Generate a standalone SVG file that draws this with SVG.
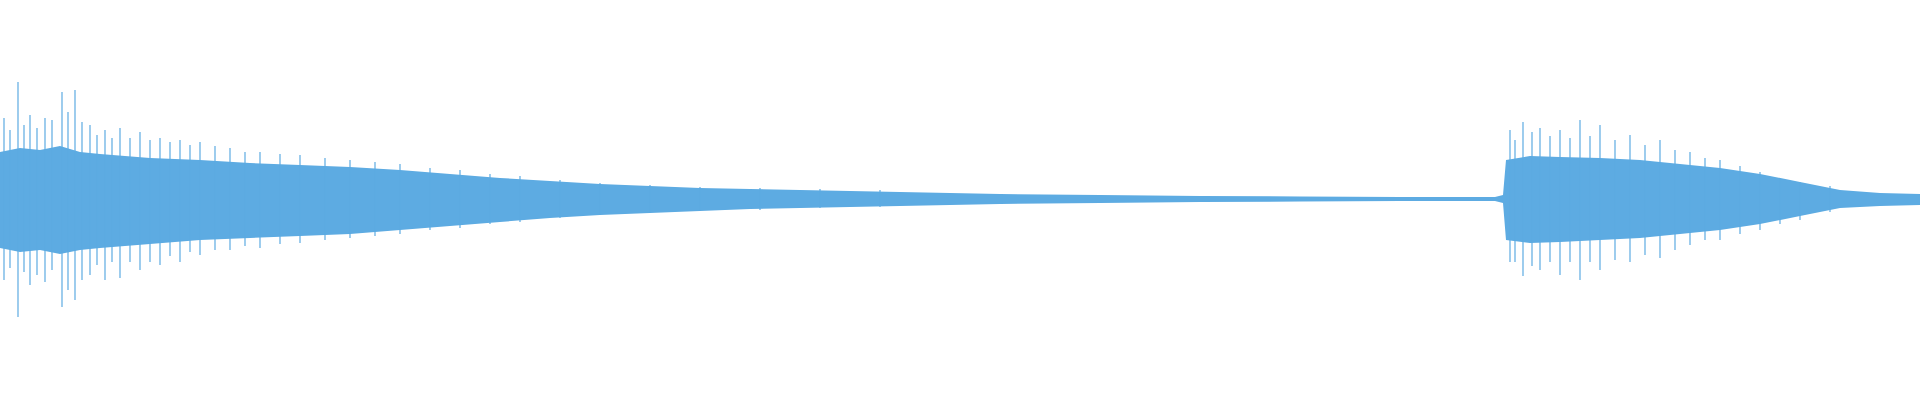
<svg xmlns="http://www.w3.org/2000/svg" width="1920" height="400" viewBox="0 0 1920 400">
<style>.w{fill:#5dabe2}.s{stroke:#5dabe2;stroke-width:1.2}</style>
<rect width="1920" height="400" fill="#fff"/>
<path class="w" d="M0,152 L20,148 L40,150 L60,146 L80,152 L100,154 L150,158 L200,160 L250,163 L300,165 L350,167 L400,170 L450,174 L500,178 L550,181 L600,184 L650,186 L700,188 L750,189 L800,190 L850,191 L900,192 L950,193 L1000,194 L1100,195 L1200,196 L1300,196.5 L1400,197 L1495,197 L1503,195 L1506,160 L1530,156 L1560,157 L1600,158 L1640,160 L1680,164 L1720,168 L1760,174 L1800,182 L1840,190 L1880,193 L1920,194 L1920,205 L1880,206 L1840,208 L1800,216 L1760,224 L1720,230 L1680,234 L1640,238 L1600,240 L1560,242 L1530,243 L1506,240 L1503,203 L1495,201 L1400,201 L1300,201.5 L1200,202 L1100,203 L1000,204 L950,205 L900,206 L850,207 L800,208 L750,209 L700,211 L650,213 L600,215 L550,218 L500,222 L450,226 L400,230 L350,234 L300,236 L250,238 L200,240 L150,244 L100,248 L80,250 L60,254 L40,250 L20,252 L0,248 Z"/>
<g class="s">
<line x1="18" y1="82" x2="18" y2="317"/><line x1="62" y1="92" x2="62" y2="307"/><line x1="75" y1="90" x2="75" y2="300"/>
<line x1="4" y1="118" x2="4" y2="280"/><line x1="30" y1="115" x2="30" y2="285"/><line x1="45" y1="118" x2="45" y2="282"/>
<line x1="10" y1="130" x2="10" y2="268"/><line x1="24" y1="125" x2="24" y2="272"/><line x1="37" y1="128" x2="37" y2="275"/>
<line x1="52" y1="120" x2="52" y2="270"/><line x1="68" y1="112" x2="68" y2="290"/><line x1="82" y1="122" x2="82" y2="280"/>
<line x1="90" y1="125" x2="90" y2="275"/><line x1="97" y1="135" x2="97" y2="265"/><line x1="105" y1="130" x2="105" y2="280"/><line x1="112" y1="138" x2="112" y2="262"/><line x1="120" y1="128" x2="120" y2="278"/>
<line x1="130" y1="138" x2="130" y2="262"/><line x1="140" y1="132" x2="140" y2="270"/><line x1="150" y1="140" x2="150" y2="262"/><line x1="160" y1="138" x2="160" y2="265"/><line x1="170" y1="142" x2="170" y2="256"/><line x1="180" y1="140" x2="180" y2="262"/>
<line x1="190" y1="145" x2="190" y2="252"/><line x1="200" y1="142" x2="200" y2="255"/><line x1="215" y1="146" x2="215" y2="250"/><line x1="230" y1="148" x2="230" y2="250"/><line x1="245" y1="152" x2="245" y2="246"/><line x1="260" y1="152" x2="260" y2="248"/>
<line x1="280" y1="154" x2="280" y2="244"/><line x1="300" y1="155" x2="300" y2="243"/><line x1="325" y1="158" x2="325" y2="240"/><line x1="350" y1="160" x2="350" y2="238"/><line x1="375" y1="162" x2="375" y2="236"/><line x1="400" y1="164" x2="400" y2="234"/>
<line x1="430" y1="168" x2="430" y2="230"/><line x1="460" y1="170" x2="460" y2="228"/><line x1="490" y1="174" x2="490" y2="224"/><line x1="520" y1="176" x2="520" y2="222"/><line x1="560" y1="180" x2="560" y2="218"/><line x1="600" y1="183" x2="600" y2="215"/>
<line x1="650" y1="185" x2="650" y2="213"/><line x1="700" y1="187" x2="700" y2="211"/><line x1="760" y1="188" x2="760" y2="210"/><line x1="820" y1="189" x2="820" y2="208"/><line x1="880" y1="190" x2="880" y2="207"/>
<line x1="1510" y1="130" x2="1510" y2="262"/><line x1="1515" y1="140" x2="1515" y2="262"/><line x1="1523" y1="122" x2="1523" y2="276"/><line x1="1532" y1="132" x2="1532" y2="266"/><line x1="1540" y1="128" x2="1540" y2="270"/>
<line x1="1550" y1="136" x2="1550" y2="262"/><line x1="1560" y1="130" x2="1560" y2="275"/><line x1="1570" y1="138" x2="1570" y2="262"/><line x1="1580" y1="120" x2="1580" y2="280"/><line x1="1590" y1="136" x2="1590" y2="262"/><line x1="1600" y1="125" x2="1600" y2="270"/>
<line x1="1615" y1="140" x2="1615" y2="260"/><line x1="1630" y1="135" x2="1630" y2="262"/><line x1="1645" y1="145" x2="1645" y2="255"/><line x1="1660" y1="140" x2="1660" y2="258"/><line x1="1675" y1="150" x2="1675" y2="250"/><line x1="1690" y1="152" x2="1690" y2="245"/>
<line x1="1705" y1="158" x2="1705" y2="240"/><line x1="1720" y1="160" x2="1720" y2="240"/><line x1="1740" y1="166" x2="1740" y2="234"/><line x1="1760" y1="172" x2="1760" y2="230"/><line x1="1780" y1="178" x2="1780" y2="224"/><line x1="1800" y1="182" x2="1800" y2="220"/><line x1="1830" y1="186" x2="1830" y2="212"/>
</g>
</svg>
